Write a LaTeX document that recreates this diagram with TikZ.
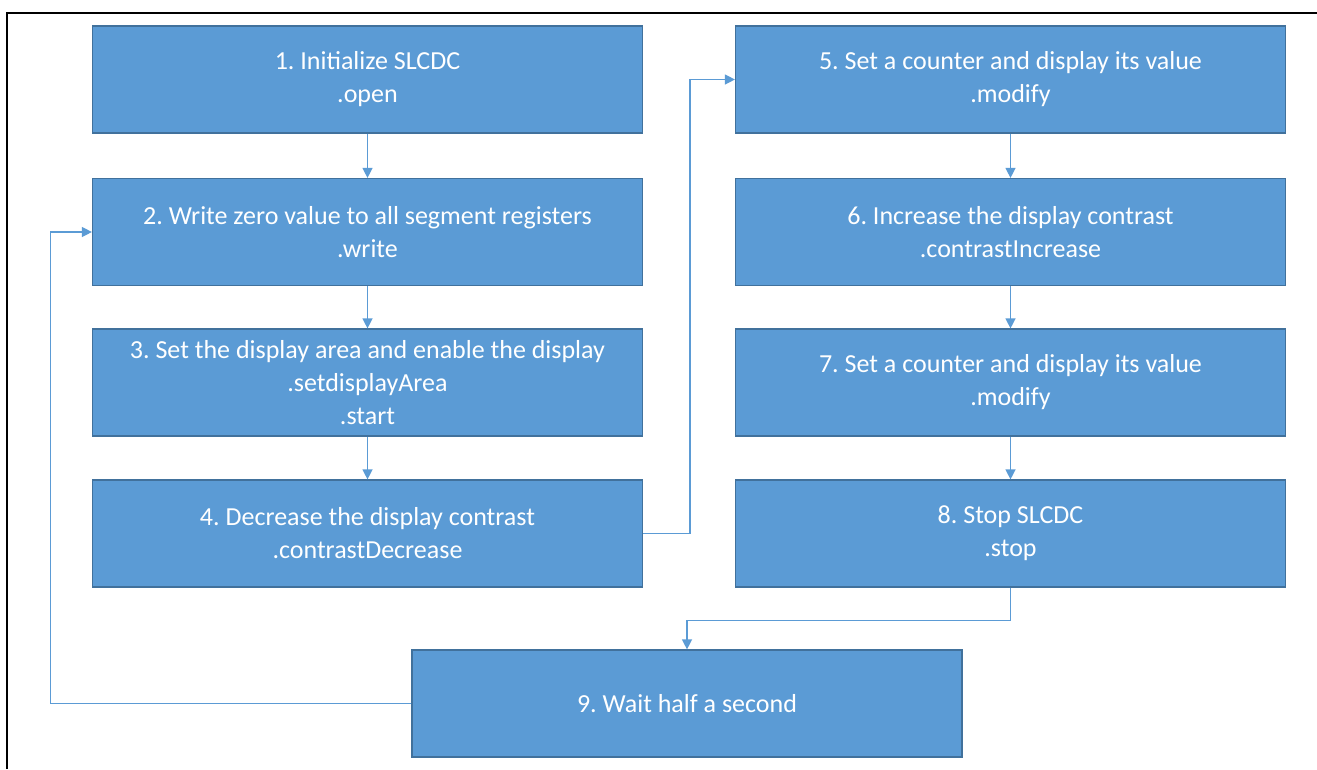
\documentclass[tikz,border=0pt]{standalone}
\usepackage{fontspec}
\setmainfont{Carlito}
\usetikzlibrary{arrows.meta}
\definecolor{boxblue}{HTML}{5B9BD5}
\definecolor{boxedge}{HTML}{41719C}
\definecolor{linkblue}{HTML}{5B9BD5}
\frenchspacing

\begin{document}
\begin{tikzpicture}[x=1pt,y=-1pt]

	\tikzstyle stage box=[draw=boxedge, line width=1.2pt, fill=boxblue, text=white, minimum width=550pt, minimum height=107pt, align=center, inner sep=0pt, font=\fontsize{26}{33}\selectfont];
	\tikzstyle flow lines=[draw=linkblue, line width=1.3pt, -{Triangle[length=10pt,width=10pt]}];

	\useasboundingbox (0,0) rectangle (1317,769);
	\draw[line width=2.5pt] (7,769) -- (7,13) -- (1317,13);

	\node[stage box] (b1) at (367.5,79.5) {1. Initialize SLCDC\\.open};
	\node[stage box] (b2) at (367.5,232) {2. Write zero value to all segment registers\\.write};
	\node[stage box] (b3) at (367.5,382.5) {3. Set the display area and enable the display\\.setdisplayArea\\.start};
	\node[stage box] (b4) at (367.5,533.5) {4. Decrease the display contrast\\.contrastDecrease};

	\node[stage box] (b5) at (1010.5,79.5) {5. Set a counter and display its value\\.modify};
	\node[stage box] (b6) at (1010.5,232) {6. Increase the display contrast\\.contrastIncrease};
	\node[stage box] (b7) at (1010.5,382.5) {7. Set a counter and display its value\\.modify};
	\node[stage box] (b8) at (1010.5,533.5) {8. Stop SLCDC\\.stop};

	\node[stage box] (b9) at (687,703.5) {9. Wait half a second};

	\foreach \a/\b in {b1/b2,b2/b3,b3/b4,b5/b6,b6/b7,b7/b8}
		\draw[flow lines] (\a.south) -- (\b.north);

	\draw[flow lines] (b4.east) -- ++(47,0) |- (b5.west);
	\draw[flow lines] (b8.south) -- ++(0,33) -| (b9.north);
	\draw[flow lines] (b9.west) -- ++(-361,0) |- (b2.west);

\end{tikzpicture}
\end{document}
